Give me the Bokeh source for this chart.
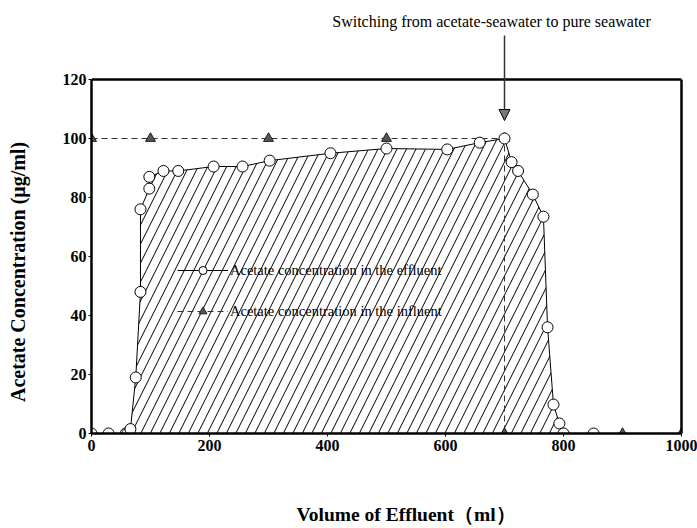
from bokeh.plotting import figure
from bokeh.models import (Label, Arrow, NormalHead, Legend, LegendItem, Range1d, FixedTicker,
                          LinearAxis, Span)
from bokeh.embed import file_html
from bokeh.resources import INLINE

# Effluent (circles)
eff_x = [0, 29, 58, 61, 66, 75, 83, 83, 98, 98, 122, 147, 207, 256, 302, 405, 500, 603, 658, 700,
         712, 723, 748, 766, 773, 783, 793, 800, 851]
eff_y = [0, 0, 0, 0, 1.5, 19, 48, 76, 83, 87, 89, 89, 90.5, 90.5, 92.5, 95, 96.6, 96.3, 98.6, 100,
         92, 89, 81, 73.5, 36, 9.8, 3.4, 0, 0]

# Influent (triangles)
inf_x = [0, 100, 300, 500, 700, 700, 900, 1000]
inf_y = [100, 100, 100, 100, 100, 0, 0, 0]

x_ticks = [0, 200, 400, 600, 800, 1000]
y_ticks = [0, 20, 40, 60, 80, 100, 120]
y_max = 120

SERIF = "Liberation Serif"
NB = "\u00a0"

# frame extends above the box so the annotation and arrow are not clipped
p = figure(width=697, height=528, output_backend="svg", toolbar_location=None,
           x_range=Range1d(0, 1000), y_range=Range1d(0, 146.78),
           min_border_left=91, min_border_right=16, min_border_top=0, min_border_bottom=95)

p.xgrid.visible = False
p.ygrid.visible = False
p.outline_line_color = None
p.background_fill_color = "white"

# hatched area under effluent curve
p.patch(eff_x, eff_y, fill_alpha=0, line_alpha=0, hatch_pattern="/",
        hatch_color="black", hatch_scale=19, hatch_weight=1)

eff_line = p.line(eff_x, eff_y, line_color="black", line_width=1)
inf_line = p.line(inf_x, inf_y, line_color="#333333", line_width=1, line_dash="6 4")
inf_pts = p.scatter(inf_x, inf_y, marker="triangle", size=10, fill_color="#555555",
                    line_color="#222222", line_width=1)
eff_pts = p.scatter(eff_x, eff_y, marker="circle", size=11, fill_color="white",
                    line_color="black", line_width=1)

# box: top line and right side
p.add_layout(Span(location=y_max, dimension="width", line_color="black", line_width=2.5))
right_ax = LinearAxis(bounds=(0, y_max), ticker=FixedTicker(ticks=[]),
                      major_tick_line_color=None, minor_tick_line_color=None,
                      axis_line_width=2.5, axis_line_color="black")
p.add_layout(right_ax, "right")

# axes
for ax in (p.xaxis[0], p.yaxis[0]):
    ax.axis_line_width = 2.5
    ax.axis_line_color = "black"
    ax.major_tick_in = 0
    ax.major_tick_out = 3
    ax.minor_tick_in = 0
    ax.minor_tick_out = 0
    ax.major_label_text_font = SERIF
    ax.major_label_text_font_style = "bold"
    ax.major_label_text_font_size = "16px"
    ax.major_label_text_color = "black"
    ax.axis_label_text_font = SERIF
    ax.axis_label_text_font_style = "bold"
    ax.axis_label_text_color = "black"

p.yaxis[0].bounds = (0, y_max)
p.xaxis.ticker = FixedTicker(ticks=x_ticks)
p.yaxis[0].ticker = FixedTicker(ticks=y_ticks)
p.xaxis.major_label_standoff = 3
p.yaxis[0].major_label_standoff = 2
p.xaxis.axis_label = NB * 8 + "Volume of Effluent（ml）"
p.xaxis.axis_label_text_font_size = "19.5px"
p.xaxis.axis_label_standoff = 50
# trailing spaces centre the label on the 0-120 box rather than the taller frame
p.yaxis[0].axis_label = "Acetate Concentration (μg/ml)" + NB * 22
p.yaxis[0].axis_label_text_font_size = "20px"
p.yaxis[0].axis_label_standoff = 31

legend = Legend(items=[
    LegendItem(label="Acetate concentration in the effluent", renderers=[eff_line, eff_pts]),
    LegendItem(label="Acetate concentration in the influent", renderers=[inf_line, inf_pts]),
], location=(86, 112), padding=0, margin=0, spacing=21, glyph_width=51, glyph_height=20,
    label_height=20, label_standoff=2, border_line_alpha=0, background_fill_alpha=0,
    label_text_font=SERIF, label_text_font_size="14.5px", label_text_color="black")
p.add_layout(legend)

# annotation
p.add_layout(Label(x=678, y=139.7, text="Switching from acetate-seawater to pure seawater",
                   text_align="center", text_baseline="middle", text_font=SERIF,
                   text_font_size="16px", text_color="black"))
p.add_layout(Arrow(x_start=700, y_start=134.9, x_end=700, y_end=106.1, line_color="#333333",
                   line_width=1.5,
                   end=NormalHead(size=11, fill_color="#777777", line_color="black", line_width=1)))

open("out.html", "w").write(file_html(p, INLINE))
